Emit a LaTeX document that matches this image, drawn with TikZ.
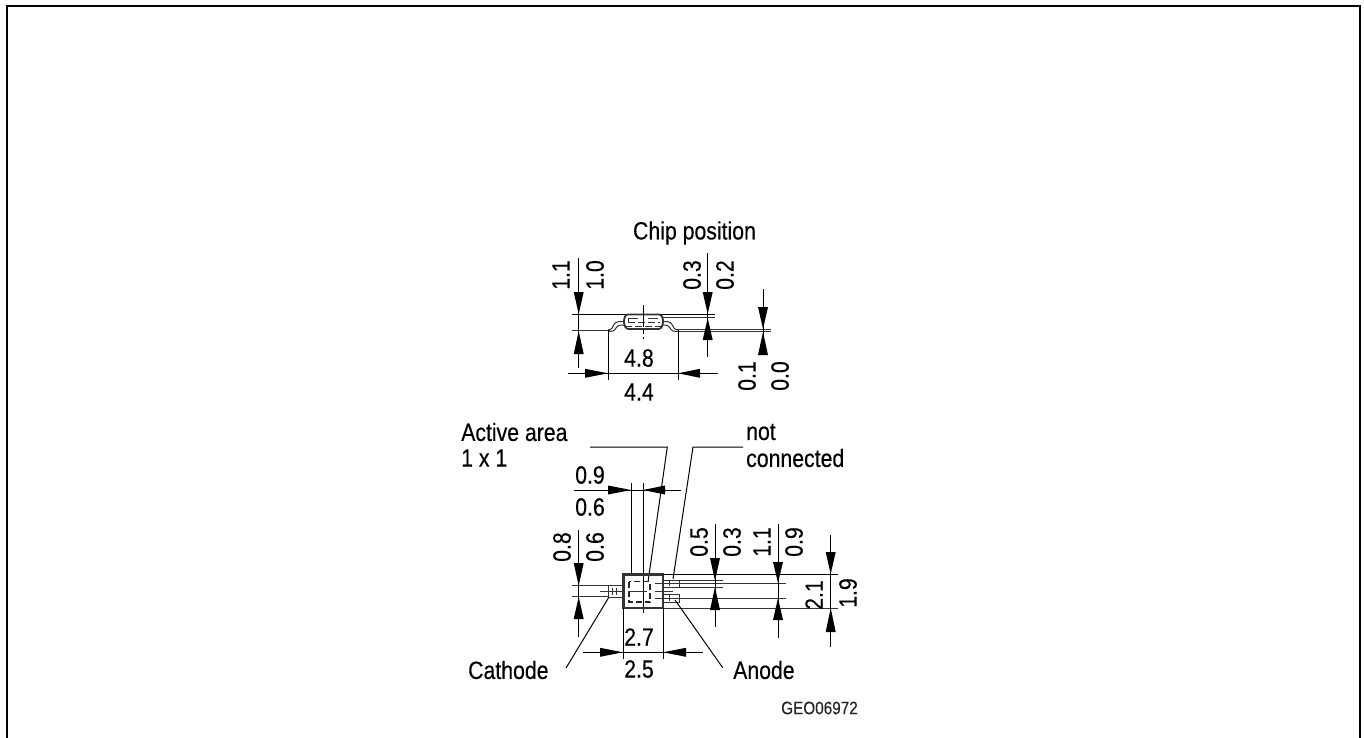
\documentclass[tikz,border=0pt]{standalone}
\usepackage{fontspec}
\setmainfont[FakeStretch=0.85,FakeBold=0.3]{Liberation Sans}
\usetikzlibrary{arrows.meta}
\tikzset{
 dimline/.style={black,line width=1pt},
 thinline/.style={black!80,line width=1pt},
 bodyline/.style={black!80,line width=1.8pt},
 lbl/.style={font=\fontsize{25}{25}\selectfont,inner sep=0pt,text=black},
 lblL/.style={lbl,anchor=west},
 rlbl/.style={lbl,rotate=90},
 small/.style={font=\fontsize{18}{18}\selectfont,inner sep=0pt,text=black!85},
}
\newcommand{\vhead}[3]{\fill (#1-5,#3) -- (#1+5,#3) -- (#1,#2) -- cycle;}
\newcommand{\hhead}[3]{\fill (#3,#2-4.5) -- (#3,#2+4.5) -- (#1,#2) -- cycle;}
\begin{document}
\begin{tikzpicture}[x=1pt,y=-1pt]
\useasboundingbox (0,0) rectangle (1364,738);
% page frame
\coordinate (fa) at (7,738); \coordinate (fb) at (7,6); \coordinate (fc) at (1360,6); \coordinate (fd) at (1360,738);
\draw[black,line width=2.2pt] (fa) -- (fb) -- (fc) -- (fd);
% ===== Side view =====
\node[lbl] (chip) at (694.5,233) {Chip position};
\draw[dimline] (572,314.3) -- (715,314.3);
\draw[thinline] (663,317.7) -- (715,317.7);
\draw[thinline] (572,330.7) -- (610,330.7);
\draw[thinline] (675,329.7) -- (771,329.7);
\draw[thinline] (675,331.7) -- (771,331.7);
% body
\draw[bodyline,rounded corners=2.5pt] (626,329) -- (623.5,322) -- (625.5,314.5) -- (661.5,314.5) -- (663.5,322) -- (661,329) -- cycle;
% leads
\draw[thinline] (608,330) -- (611,329) .. controls (613,329) and (613,321.5) .. (619,321.5) -- (624,321.5);
\draw[thinline] (609,331.5) -- (613,331) .. controls (616,330) and (616,325) .. (621,325) -- (625,325);
\draw[thinline] (678,330) -- (675,329) .. controls (673,329) and (673,321.5) .. (667,321.5) -- (663,321.5);
\draw[thinline] (677,331.5) -- (673,331) .. controls (670,330) and (670,325) .. (665,325) -- (662,325);
% chip dashes
\draw[thinline,dash pattern=on 7pt off 3pt] (625,326) -- (662,326);
\draw[thinline,dash pattern=on 7pt off 3pt] (628,322) -- (660,322);
\draw[thinline] (628,322) -- (628,318) -- (638,318);
\draw[thinline] (648,318) -- (658,318);
% centre line
\draw[dimline] (643,305) -- (643,323);
\draw[dimline,dash pattern=on 4pt off 3pt] (643,323) -- (643,339);
% dims
\draw[dimline] (578.7,258) -- (578.7,368);
\vhead{578.7}{314}{292} \vhead{578.7}{331}{354}
\draw[dimline] (707.7,253) -- (707.7,357);
\vhead{707.7}{314}{292} \vhead{707.7}{318}{340}
\draw[dimline] (763,289) -- (763,355);
\vhead{763}{329}{307} \vhead{763}{332}{355}
\draw[dimline] (568,373.3) -- (718,373.3);
\hhead{608}{373.3}{585} \hhead{678}{373.3}{700}
\draw[dimline] (608,330) -- (608,380);
\draw[dimline] (678,330) -- (678,380);
\node[rlbl] (t11) at (561,275) {1.1};
\node[rlbl] (t10) at (595,275) {1.0};
\node[rlbl] (t03) at (692,275) {0.3};
\node[rlbl] (t02) at (725,275) {0.2};
\node[rlbl] (t01) at (747,376) {0.1};
\node[rlbl] (t00) at (780,376) {0.0};
\node[lbl] (t48) at (639,358) {4.8};
\node[lbl] (t44) at (639,392) {4.4};
% ===== Top view =====
\node[lblL] (active) at (461,432) {Active area};
\node[lblL] (active2) at (461,458) {1 x 1};
\node[lblL] (nc) at (746,432) {not};
\node[lblL] (nc2) at (746,458) {connected};
\coordinate (la0) at (590,447); \coordinate (la1) at (667.3,447); \coordinate (la2) at (648,582);
\draw[dimline] (la0) -- (la1) -- (la2);
\coordinate (lb0) at (743,447); \coordinate (lb1) at (693,447); \coordinate (lb2) at (673,579);
\draw[dimline] (lb0) -- (lb1) -- (lb2);
\node[lbl] (t09) at (590,475) {0.9};
\node[lbl] (t06) at (590,507) {0.6};
\draw[dimline] (574,490) -- (681,490);
\hhead{631}{490}{608} \hhead{643}{490}{665}
\draw[dimline] (631,483) -- (631,575);
\draw[dimline] (643,483) -- (643,613);
% package
\draw[black!80,line width=2.2pt] (623.5,574.5) rectangle (663,608);
\draw[dimline] (663,574) -- (838,574);
\draw[thinline] (663,608) -- (838,608);
% left lead
\draw[thinline] (572,585.7) -- (623,585.7);
\draw[thinline] (572,596.7) -- (608,596.7);
\draw[thinline] (608.5,585.7) rectangle (623,597);
\draw[thinline] (600,591) -- (622,591);
\draw[thinline] (616,587.5) -- (616,594.5);
\draw[thinline] (612,587.5) -- (612,594.5);
% right leads
\draw[thinline] (663,580) rectangle (679,587);
\draw[thinline] (663,594) rectangle (679,602.7);
\draw[thinline] (655,583) -- (786,583);
\draw[thinline] (655,598) -- (786,598);
\draw[thinline] (655,591) -- (673,591);
\draw[thinline] (679,580.6) -- (723,580.6);
\draw[thinline] (679,587) -- (723,587);
\draw[thinline] (669,581) -- (669,586);
\draw[thinline] (669,595) -- (669,601);
% active area dashed
\draw[black!85,line width=1.2pt,dash pattern=on 6pt off 3pt] (629,581.5) rectangle (650,602);
\draw[thinline] (628,591) -- (647,591);
% dims
\draw[dimline] (578.7,530) -- (578.7,637);
\vhead{578.7}{585.7}{563} \vhead{578.7}{597}{619}
\draw[dimline] (715,524) -- (715,627);
\vhead{715}{580.6}{558} \vhead{715}{587}{610}
\draw[dimline] (778,524) -- (778,638);
\vhead{778}{583}{562} \vhead{778}{598}{620}
\draw[dimline] (830.7,535) -- (830.7,647);
\vhead{830.7}{574}{552} \vhead{830.7}{608}{632}
\node[rlbl] (t08) at (562,547) {0.8};
\node[rlbl] (t06b) at (595,547) {0.6};
\node[rlbl] (t05) at (699,542) {0.5};
\node[rlbl] (t03b) at (732,542) {0.3};
\node[rlbl] (t11b) at (762,542) {1.1};
\node[rlbl] (t09b) at (794,542) {0.9};
\node[rlbl] (t21) at (814,595) {2.1};
\node[rlbl] (t19) at (848,593) {1.9};
\draw[dimline] (623,608) -- (623,659);
\draw[dimline] (663,608) -- (663,659);
\draw[dimline] (583,652.3) -- (703,652.3);
\hhead{623}{652.3}{600} \hhead{663}{652.3}{686}
\node[lbl] (t27) at (639,637) {2.7};
\node[lbl] (t25) at (639,669) {2.5};
\coordinate (lc0) at (609,597); \coordinate (lc1) at (566,668);
\draw[dimline] (lc0) -- (lc1);
\coordinate (ld0) at (675,600); \coordinate (ld1) at (722.7,667.7);
\draw[dimline] (ld0) -- (ld1);
\node[lblL] (cath) at (468,670) {Cathode};
\node[lblL] (anode) at (733,670) {Anode};
\node[small,anchor=west] (geo) at (781,708) {GEO06972};
\end{tikzpicture}
\end{document}
